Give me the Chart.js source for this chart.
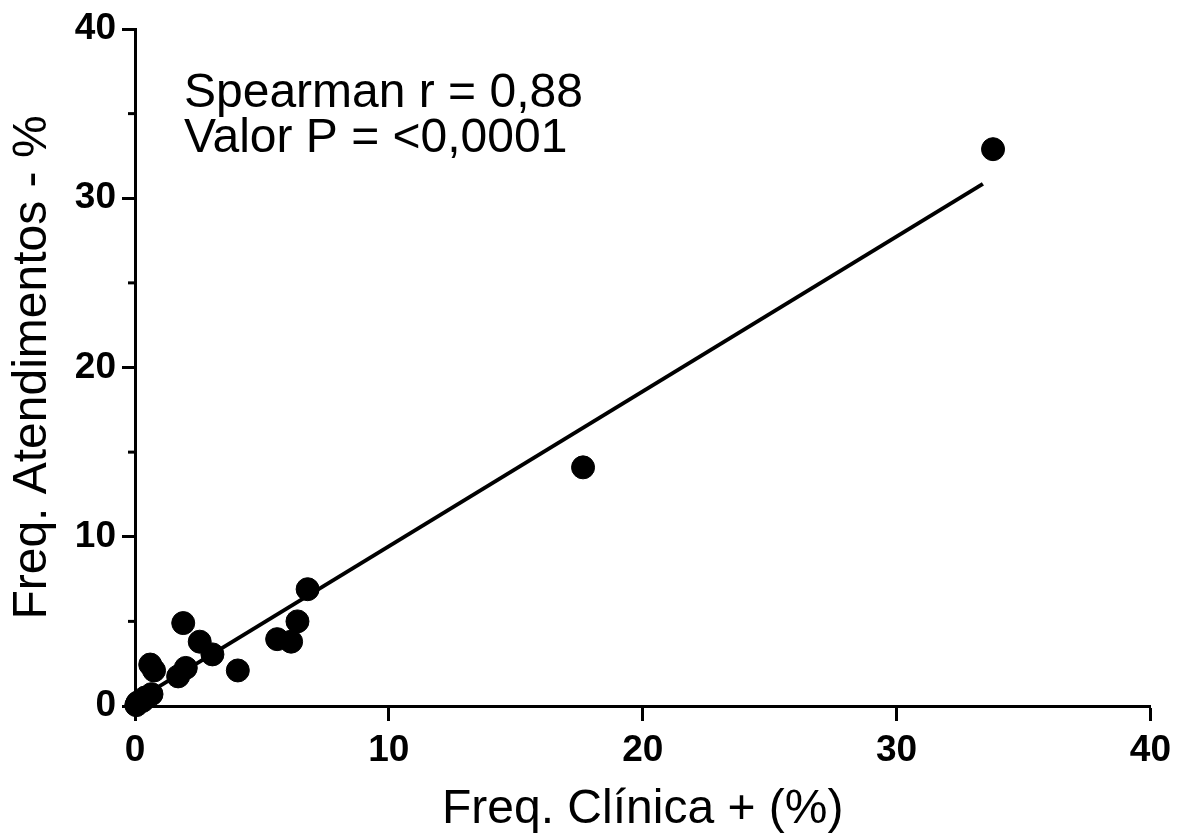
<!DOCTYPE html>
<html lang="pt">

<head>
    <meta charset="UTF-8" />
    <title>Freq. Clínica x Freq. Atendimentos</title>
    <script src="https://cdn.jsdelivr.net/npm/chart.js"></script>
    <style>
        body {
            margin: 0;
            background-color: #ffffff;
            overflow: hidden;
        }

        canvas {
            display: block;
        }
    </style>
</head>

<body>
    <canvas id="scatterChart" width="1179" height="834"></canvas>

    <script>
        // values
        const clinicaPct = [33.8, 17.65, 6.8, 6.4, 6.15, 5.6, 4.05, 3.05, 2.55, 1.9, 2.0, 1.7, 0.6, 0.75, 0.65, 0.3, 0.1, 0.05, 0.4];
        const atendPct = [32.9, 14.1, 6.9, 5.0, 3.8, 3.95, 2.1, 3.05, 3.8, 4.9, 2.25, 1.75, 2.45, 2.1, 0.7, 0.3, 0.2, 0.05, 0.5];

        // fitted line end points
        const fitX = [0.05, 33.4];
        const fitY = [0.33, 30.85];

        const xTicks = [0, 10, 20, 30, 40];
        const yTicks = [0, 10, 20, 30, 40];
        const yMinorTicks = [5, 15, 25, 35];

        const statLines = ["Spearman r = 0,88", "Valor P = <0,0001"];
        const xTitle = "Freq. Clínica + (%)";
        const yTitle = "Freq. Atendimentos - %";

        const FONT = "'Liberation Sans', Arial, sans-serif";

        const points = clinicaPct.map((x, i) => ({ x: x, y: atendPct[i] }));
        const fitLine = fitX.map((x, i) => ({ x: x, y: fitY[i] }));

        // short ticks at the half steps of the y axis + the stats text
        const extras = {
            id: "extras",
            afterDraw(chart) {
                const ctx = chart.ctx;
                const area = chart.chartArea;
                const ys = chart.scales.y;
                ctx.save();
                ctx.strokeStyle = "#000";
                ctx.lineWidth = 3;
                yMinorTicks.forEach(v => {
                    const py = ys.getPixelForValue(v);
                    ctx.beginPath();
                    ctx.moveTo(area.left - 7, py);
                    ctx.lineTo(area.left, py);
                    ctx.stroke();
                });

                ctx.fillStyle = "#000";
                ctx.font = "48px " + FONT;
                ctx.textAlign = "left";
                ctx.textBaseline = "alphabetic";
                statLines.forEach((line, i) => {
                    ctx.fillText(line, 184, 107 + i * 45);
                });
                ctx.restore();
            }
        };

        const scatterChart = new Chart(document.getElementById("scatterChart"), {
            type: "scatter",
            data: {
                datasets: [
                    {
                        type: "line",
                        data: fitLine,
                        borderColor: "#000",
                        borderWidth: 4,
                        pointRadius: 0,
                        fill: false,
                        clip: false
                    },
                    {
                        data: points,
                        backgroundColor: "#000",
                        borderColor: "#000",
                        pointRadius: 11.5,
                        pointHoverRadius: 11.5,
                        clip: false
                    }
                ]
            },
            plugins: [extras],
            options: {
                responsive: false,
                animation: false,
                devicePixelRatio: 1,
                layout: { padding: { top: 29, right: 27, left: 0, bottom: 0 } },
                plugins: {
                    legend: { display: false },
                    tooltip: { enabled: false }
                },
                scales: {
                    x: {
                        type: "linear",
                        min: 0,
                        max: 40,
                        afterBuildTicks: s => { s.ticks = xTicks.map(v => ({ value: v })); },
                        afterFit: s => { s.height = 128; },
                        border: { display: true, color: "#000", width: 3 },
                        grid: {
                            drawOnChartArea: false,
                            drawTicks: true,
                            tickLength: 15,
                            tickWidth: 3,
                            tickColor: "#000"
                        },
                        ticks: {
                            color: "#000",
                            padding: 8,
                            maxRotation: 0,
                            font: { family: FONT, size: 37, weight: "bold" }
                        },
                        title: {
                            display: true,
                            text: xTitle,
                            color: "#000",
                            padding: { top: 0, bottom: 0 },
                            font: { family: FONT, size: 48, lineHeight: 1 }
                        }
                    },
                    y: {
                        type: "linear",
                        min: 0,
                        max: 40,
                        afterBuildTicks: s => { s.ticks = yTicks.map(v => ({ value: v })); },
                        afterFit: s => { s.width = 135; },
                        border: { display: true, color: "#000", width: 3 },
                        grid: {
                            drawOnChartArea: false,
                            drawTicks: true,
                            tickLength: 13,
                            tickWidth: 3,
                            tickColor: "#000"
                        },
                        ticks: {
                            color: "#000",
                            padding: 6,
                            font: { family: FONT, size: 37, weight: "bold" }
                        },
                        title: {
                            display: true,
                            text: yTitle,
                            color: "#000",
                            padding: { top: 4, bottom: 4 },
                            font: { family: FONT, size: 48, lineHeight: 1.2 }
                        }
                    }
                }
            }
        });
    </script>
</body>

</html>
